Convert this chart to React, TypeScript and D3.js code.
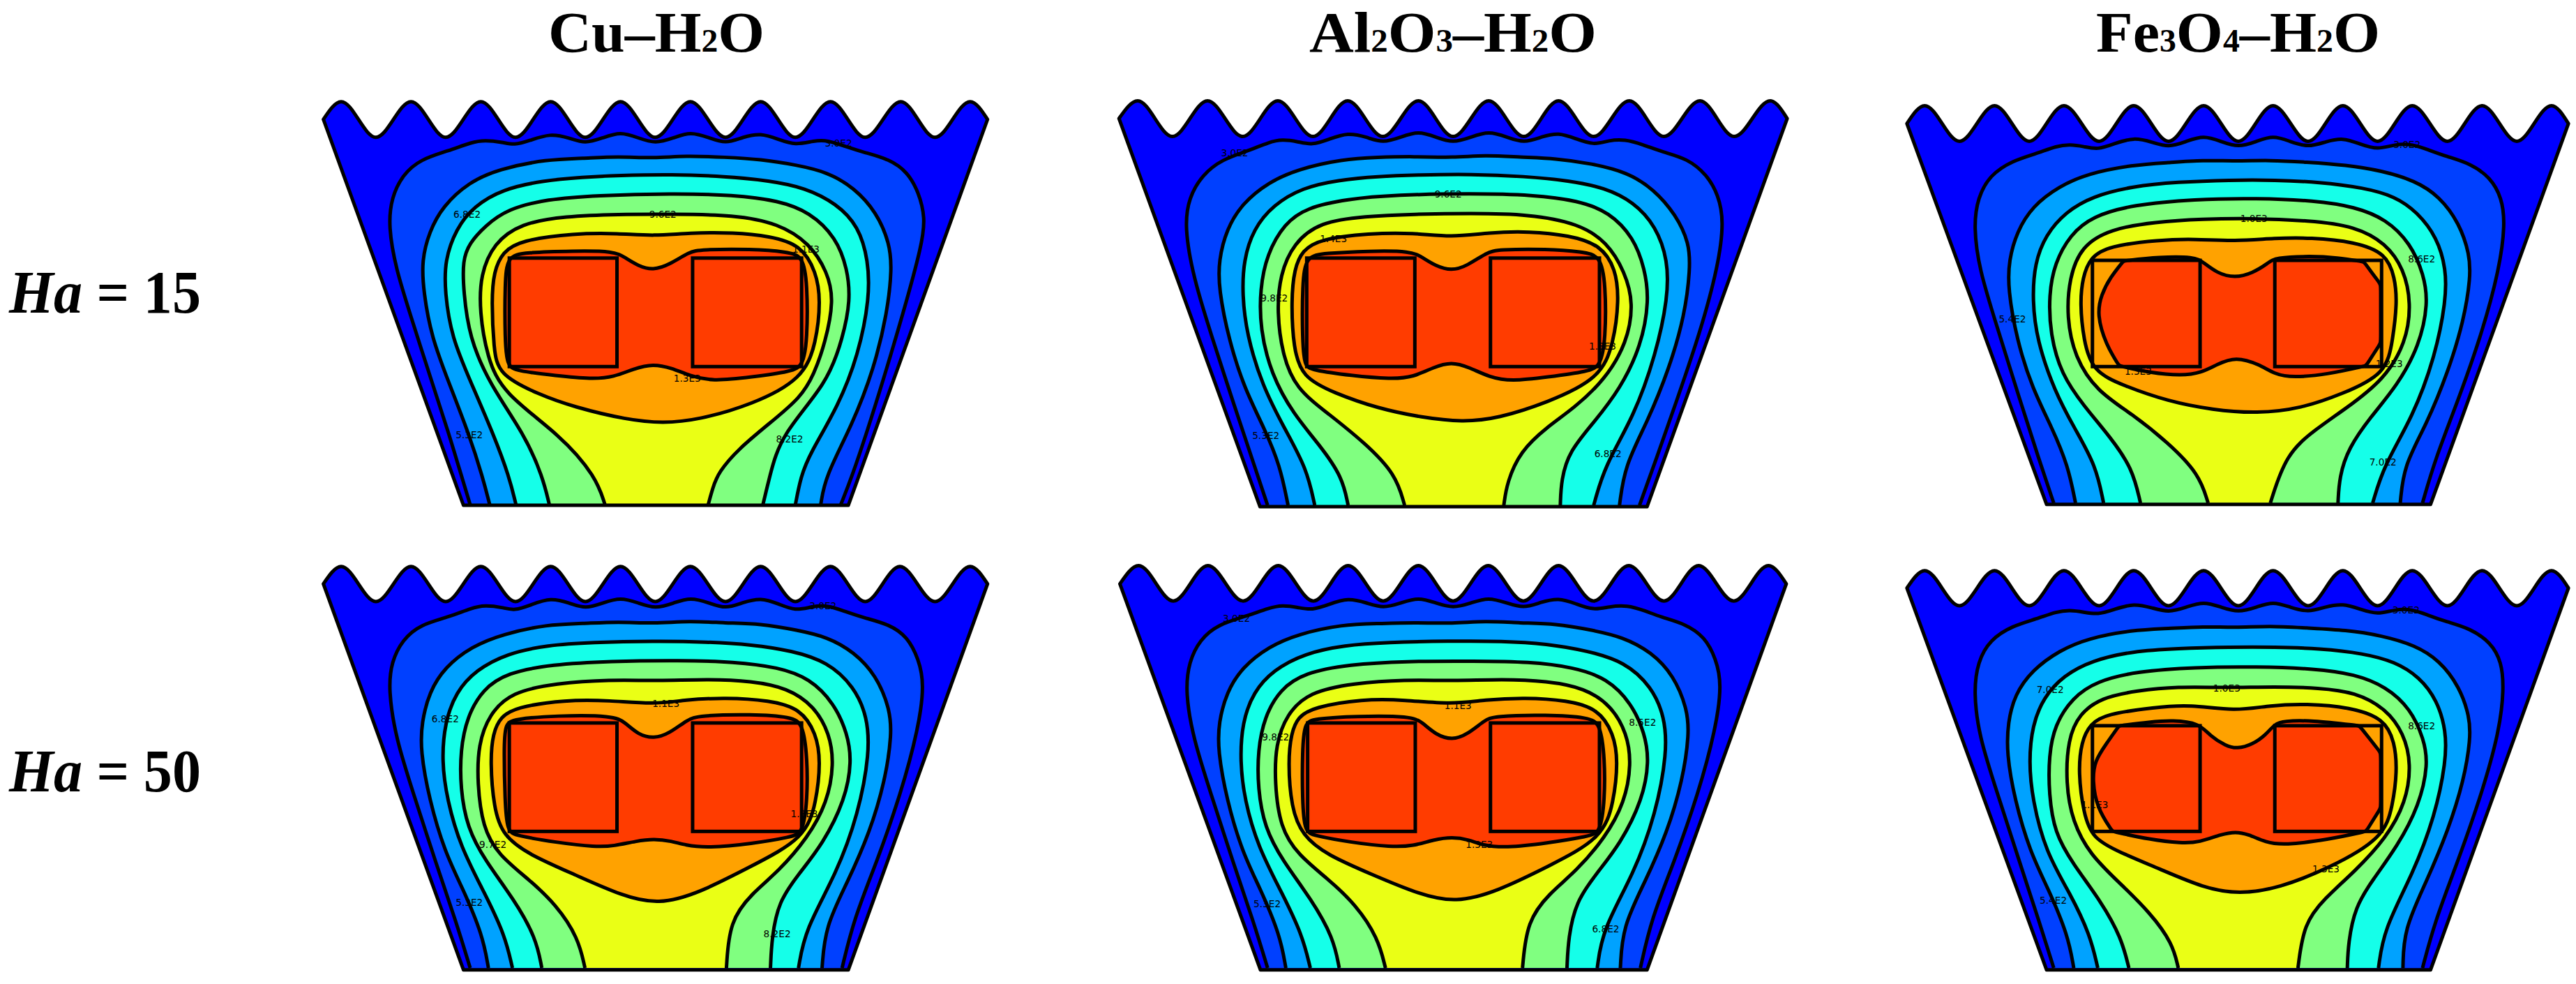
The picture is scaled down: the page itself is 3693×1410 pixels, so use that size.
import React from "react";
import * as d3 from "d3";

type P = [number, number];
type Lab = [string, number, number];

const bandColors = ["#0000ff", "#0040ff", "#00a2ff", "#15ffe9", "#80ff80", "#eaff15", "#ffa200", "#ff3c00"];

// Each panel: contours read in a 1568-unit reading frame over its crop window
const cu15Origin = [440, 120, 640];
const cu15Hull: P[] = [[37, 125], [1530, 125], [352, 1480], [1217, 1480]];
const cu15Peaks = [77, 234, 391, 548, 705, 862, 1020, 1177, 1335, 1491];
const cu15Valleys = [155, 312, 469, 626, 783, 941, 1098, 1255, 1412];
const cu15Crest = [63, 188];
const cu15Blocks = [455, 697, 867, 1112, 612, 993];
const cu15Lines: P[][] = [
  [[367,1478],[348,1380],[317,1217],[282,1053],[232,808],[200,650],[183,500],[190,400],[215,320],[255,265],[320,235],[370,205],[400,198],[440,205],[466,216],[500,200],[547,174],[590,190],[625,211],[665,190],[705,168],[745,190],[783,211],[825,190],[862,168],[905,190],[941,211],[980,187],[1020,173],[1060,195],[1098,216],[1140,200],[1170,198],[1210,220],[1250,240],[1310,265],[1350,310],[1375,380],[1390,470],[1383,563],[1340,808],[1293,1053],[1260,1217],[1225,1380],[1200,1478]],
  [[411,1478],[395,1380],[365,1233],[320,1053],[280,890],[262,730],[258,620],[275,520],[305,430],[365,345],[430,300],[540,265],[620,262],[700,255],[780,262],[850,252],[940,258],[1020,265],[1100,285],[1170,310],[1230,365],[1280,450],[1310,560],[1315,650],[1305,800],[1275,1000],[1225,1200],[1165,1380],[1155,1478]],
  [[470,1478],[455,1380],[420,1233],[370,1053],[325,890],[310,730],[310,620],[335,510],[375,430],[440,370],[530,340],[620,328],[700,322],[820,318],[940,325],[1040,340],[1120,365],[1190,420],[1240,500],[1262,620],[1265,750],[1240,950],[1195,1130],[1130,1300],[1110,1380],[1098,1478]],
  [[545,1478],[530,1380],[490,1233],[410,1053],[365,890],[352,730],[350,620],[365,560],[400,500],[450,440],[540,405],[650,392],[820,385],[960,390],[1060,410],[1130,450],[1190,540],[1215,650],[1222,760],[1205,890],[1170,1053],[1065,1233],[1040,1380],[1025,1478]],
  [[670,1478],[650,1380],[570,1233],[440,1086],[405,960],[388,800],[390,670],[420,560],[480,490],[580,465],[700,458],[820,458],[960,460],[1060,490],[1130,560],[1170,660],[1185,760],[1165,910],[1140,1020],[1110,1102],[1040,1192],[970,1282],[925,1364],[912,1420],[902,1478]],
];
const cu15Orange: P[] = [[440,590],[480,550],[600,525],[700,525],[780,535],[860,523],[960,522],[1040,535],[1110,565],[1145,660],[1155,760],[1145,910],[1115,1037],[1000,1127],[880,1180],[800,1192],[720,1180],[600,1135],[520,1090],[430,1021],[420,930],[415,760],[420,660]];
const cu15Red: P[] = [[450,605],[490,592],[600,587],[690,587],[715,610],[745,640],[778,655],[815,635],[860,590],[885,582],[1000,580],[1080,590],[1115,605],[1125,700],[1125,900],[1115,990],[1090,1010],[1000,1030],[910,1045],[860,1025],[820,998],[778,983],[735,1000],[690,1030],[640,1037],[560,1025],[470,1008],[450,990],[445,900],[445,700]];
const cu15Labels: Lab[] = [["3.0E2",1195,207],["6.8E2",360,458],["9.6E2",800,458],["1.1E3",1122,580],["1.3E3",855,1033],["5.3E2",365,1233],["8.2E2",1085,1247]];

const al15Origin = [1580, 120, 640];
const al15Hull: P[] = [[38, 122], [1540, 122], [355, 1485], [1225, 1485]];
const al15Peaks = [80, 237, 395, 552, 711, 869, 1026, 1185, 1344, 1502];
const al15Valleys = [158, 316, 474, 631, 789, 948, 1105, 1263, 1421];
const al15Crest = [60, 185];
const al15Blocks = [460, 703, 873, 1118, 612, 993];
const al15Lines: P[][] = [
  [[372,1480],[340,1330],[295,1120],[245,880],[205,680],[185,500],[195,400],[225,320],[270,265],[330,235],[375,205],[405,195],[440,203],[472,216],[510,195],[552,171],[595,187],[631,209],[672,187],[711,166],[750,187],[789,209],[830,187],[869,166],[910,187],[948,209],[990,185],[1026,171],[1065,193],[1105,216],[1140,198],[1175,195],[1215,213],[1260,240],[1315,262],[1360,320],[1385,390],[1398,480],[1385,640],[1345,870],[1290,1120],[1245,1320],[1208,1480]],
  [[418,1480],[400,1340],[365,1210],[320,1070],[285,900],[262,720],[262,620],[280,510],[315,420],[375,345],[440,300],[540,265],[620,258],[700,255],[790,260],[860,250],[940,258],[1020,262],[1100,280],[1180,310],[1240,370],[1290,460],[1320,560],[1322,650],[1310,810],[1275,1000],[1225,1190],[1175,1340],[1163,1480]],
  [[478,1480],[460,1350],[410,1210],[360,1060],[325,880],[315,740],[318,620],[340,510],[385,425],[450,365],[530,338],[620,325],[710,320],[830,317],[950,325],[1050,340],[1130,365],[1195,415],[1245,500],[1272,620],[1272,750],[1245,950],[1195,1170],[1130,1340],[1105,1480]],
  [[553,1480],[540,1380],[490,1270],[430,1160],[380,1020],[355,860],[355,720],[370,600],[410,490],[460,435],[550,405],[660,390],[830,385],[970,390],[1070,410],[1140,450],[1195,540],[1220,650],[1230,760],[1212,920],[1165,1070],[1105,1190],[1050,1290],[1032,1390],[1030,1480]],
  [[680,1480],[660,1370],[590,1260],[510,1160],[435,1070],[405,950],[393,800],[400,670],[430,560],[490,485],[590,465],[700,458],[830,455],[960,458],[1070,490],[1135,555],[1175,660],[1195,770],[1180,910],[1130,1040],[1060,1140],[1000,1205],[940,1290],[910,1400],[903,1480]],
];
const al15Orange: P[] = [[450,585],[490,545],[600,525],[700,523],[785,540],[870,522],[960,518],[1050,532],[1120,565],[1155,650],[1162,760],[1150,910],[1120,1035],[1000,1120],[890,1175],[810,1188],[720,1172],[620,1140],[520,1085],[450,1030],[430,930],[425,760],[432,650]];
const al15Red: P[] = [[458,605],[500,595],[600,587],[695,587],[720,610],[750,640],[785,657],[820,640],[865,592],[890,582],[1000,580],[1080,590],[1120,603],[1132,700],[1132,900],[1120,990],[1095,1010],[1000,1030],[920,1045],[870,1030],[825,995],[785,976],[745,995],[700,1030],[650,1037],[560,1025],[470,1005],[455,990],[450,900],[450,700]];
const al15Labels: Lab[] = [["3.0E2",298,243],["9.6E2",778,387],["1.4E3",520,543],["9.8E2",387,752],["1.3E3",1125,920],["5.3E2",368,1235],["6.8E2",1137,1298]];

const fe15Origin = [2700, 120, 640];
const fe15Hull: P[] = [[53, 140], [1540, 140], [367, 1477], [1230, 1477]];
const fe15Peaks = [93, 250, 406, 563, 720, 876, 1033, 1189, 1346, 1502];
const fe15Valleys = [171, 328, 485, 641, 798, 955, 1111, 1268, 1424];
const fe15Crest = [77, 202];
const fe15Blocks = [470, 712, 880, 1120, 620, 993];
const fe15Lines: P[][] = [
  [[383,1472],[350,1320],[305,1100],[255,850],[215,650],[203,500],[212,400],[240,320],[290,270],[345,245],[390,218],[420,213],[450,220],[482,232],[520,210],[563,188],[605,205],[641,224],[680,203],[720,181],[760,203],[798,224],[838,203],[876,181],[915,203],[955,224],[995,203],[1033,189],[1072,212],[1111,232],[1150,212],[1190,212],[1225,232],[1265,255],[1320,280],[1365,330],[1390,400],[1398,490],[1385,650],[1345,880],[1290,1120],[1240,1320],[1212,1472]],
  [[432,1472],[415,1340],[380,1210],[335,1070],[300,900],[280,720],[282,620],[300,520],[335,430],[395,360],[460,315],[560,285],[640,277],[720,268],[790,272],[870,268],[950,275],[1040,285],[1120,305],[1195,340],[1250,395],[1295,490],[1318,600],[1320,680],[1305,830],[1270,1010],[1220,1200],[1170,1340],[1162,1472]],
  [[495,1472],[478,1340],[430,1210],[385,1080],[345,900],[335,760],[340,630],[365,530],[410,450],[470,395],[560,360],[660,345],[780,338],[880,338],[980,345],[1080,365],[1150,395],[1200,450],[1245,540],[1265,650],[1265,760],[1240,960],[1190,1170],[1125,1340],[1100,1472]],
  [[578,1472],[560,1350],[510,1240],[450,1130],[400,1020],[375,880],[372,740],[385,630],[420,530],[470,465],[560,425],[700,405],[840,402],[970,410],[1060,432],[1130,475],[1185,560],[1215,670],[1225,770],[1205,920],[1155,1060],[1095,1170],[1045,1280],[1025,1380],[1022,1472]],
  [[730,1472],[710,1370],[640,1260],[560,1160],[480,1080],[430,960],[412,820],[418,680],[445,570],[510,510],[610,485],[720,475],[820,472],[960,480],[1060,500],[1130,560],[1170,650],[1187,770],[1175,910],[1125,1040],[1040,1140],[970,1215],[905,1300],[870,1472]],
];
const fe15Orange: P[] = [[465,610],[505,570],[620,548],[700,545],[790,553],[880,542],[960,540],[1060,555],[1130,595],[1150,680],[1155,770],[1145,900],[1130,1020],[1030,1090],[940,1140],[840,1158],[740,1145],[640,1115],[540,1060],[470,1010],[450,900],[442,770],[448,680]];
const fe15Red: P[] = [[540,622],[540,622],[620,608],[700,608],[718,625],[750,665],[790,682],[830,665],[865,630],[880,610],[960,605],[1020,610],[1080,625],[1080,625],[1118,705],[1118,705],[1118,910],[1118,910],[1085,990],[1085,990],[1000,1020],[920,1032],[880,1020],[845,985],[792,958],[750,985],[715,1015],[670,1025],[600,1015],[530,990],[530,990],[500,915],[480,810],[490,740],[510,680]];
const fe15Labels: Lab[] = [["3.0E2",1177,213],["1.0E3",833,473],["8.6E2",1210,615],["5.4E2",290,825],["1.2E3",1137,982],["1.3E3",573,1010],["7.0E2",1123,1328]];

const cu50Origin = [440, 790, 620];
const cu50Hull: P[] = [[37, 118], [1530, 118], [352, 1517], [1217, 1517]];
const cu50Peaks = [77, 234, 391, 548, 705, 862, 1020, 1177, 1333, 1491];
const cu50Valleys = [155, 312, 469, 626, 783, 941, 1098, 1255, 1412];
const cu50Crest = [55, 182];
const cu50Blocks = [455, 697, 867, 1112, 622, 1015];
const cu50Lines: P[][] = [
  [[367,1510],[335,1340],[290,1130],[240,880],[200,680],[183,500],[190,400],[215,320],[255,265],[320,238],[370,205],[400,195],[440,203],[466,216],[505,193],[548,168],[590,187],[626,209],[665,187],[705,166],[745,187],[783,209],[825,187],[862,166],[905,187],[941,209],[980,185],[1020,168],[1060,190],[1098,216],[1135,200],[1170,195],[1210,218],[1250,240],[1310,265],[1350,310],[1375,390],[1388,480],[1375,640],[1335,880],[1280,1130],[1230,1330],[1203,1510]],
  [[408,1510],[395,1390],[350,1220],[310,1090],[275,900],[255,720],[258,620],[275,510],[310,420],[370,345],[440,300],[540,265],[620,262],[700,255],[780,262],[860,252],[940,260],[1020,262],[1100,285],[1170,310],[1230,365],[1280,450],[1310,570],[1315,660],[1300,830],[1265,1020],[1215,1200],[1165,1360],[1158,1510]],
  [[462,1510],[445,1390],[400,1240],[345,1070],[315,900],[303,760],[310,620],[335,510],[380,430],[450,370],[540,340],[640,330],[780,325],[900,328],[1000,338],[1090,360],[1170,400],[1230,490],[1260,600],[1265,730],[1240,950],[1190,1170],[1120,1370],[1105,1510]],
  [[528,1510],[515,1400],[465,1260],[400,1120],[360,1000],[345,860],[345,720],[360,600],[395,500],[450,440],[550,410],[680,398],[840,395],[960,400],[1060,420],[1130,460],[1185,550],[1215,660],[1225,760],[1210,900],[1160,1060],[1105,1170],[1060,1270],[1045,1400],[1042,1510]],
  [[625,1510],[610,1400],[560,1280],[500,1190],[430,1100],[395,1000],[383,840],[385,700],[410,590],[460,510],[560,478],[680,465],[790,470],[900,463],[1000,470],[1080,495],[1140,560],[1175,660],[1185,770],[1170,910],[1125,1040],[1060,1160],[1000,1240],[950,1340],[943,1510]],
];
const cu50Orange: P[] = [[435,600],[470,565],[580,538],[680,540],[780,555],[850,538],[940,530],[1040,540],[1110,570],[1145,660],[1155,760],[1145,910],[1120,1040],[1000,1140],[880,1240],[790,1280],[710,1250],[600,1170],[500,1100],[440,1030],[420,930],[412,760],[418,660]];
const cu50Red: P[] = [[445,625],[465,608],[560,595],[690,595],[715,620],[745,665],[780,679],[815,660],[855,610],[880,595],[1000,590],[1090,600],[1115,625],[1125,750],[1125,900],[1115,1020],[1090,1035],[1000,1060],[900,1075],[850,1065],[820,1050],[780,1042],[740,1050],[690,1068],[650,1072],[560,1055],[470,1030],[450,1015],[445,900],[443,720]];
const cu50Labels: Lab[] = [["3.0E2",1160,197],["1.1E3",807,552],["6.8E2",311,608],["1.3E3",1118,950],["9.7E2",418,1062],["5.3E2",365,1273],["8.2E2",1057,1387]];

const al50Origin = [1580, 790, 620];
const al50Hull: P[] = [[40, 118], [1538, 118], [356, 1517], [1225, 1517]];
const al50Peaks = [82, 238, 396, 553, 711, 868, 1026, 1184, 1341, 1498];
const al50Valleys = [160, 317, 475, 632, 789, 947, 1105, 1263, 1420];
const al50Crest = [52, 180];
const al50Blocks = [462, 704, 873, 1118, 622, 1015];
const al50Lines: P[][] = [
  [[372,1510],[340,1340],[295,1130],[245,880],[205,680],[187,510],[195,400],[220,320],[260,265],[325,235],[375,205],[405,195],[440,203],[472,214],[510,192],[553,168],[595,187],[632,207],[672,187],[711,166],[750,187],[789,207],[830,187],[868,166],[910,187],[947,207],[985,185],[1026,168],[1065,190],[1105,214],[1140,200],[1180,195],[1220,215],[1255,238],[1310,262],[1355,310],[1380,390],[1393,480],[1380,640],[1340,880],[1285,1130],[1235,1330],[1210,1510]],
  [[413,1510],[400,1390],[355,1220],[315,1090],[280,900],[260,720],[262,620],[280,510],[315,420],[375,345],[440,300],[540,265],[620,262],[700,258],[790,262],[860,252],[940,260],[1020,262],[1100,285],[1170,310],[1235,365],[1285,450],[1315,570],[1320,660],[1305,830],[1270,1020],[1220,1200],[1170,1360],[1165,1510]],
  [[468,1510],[450,1390],[405,1240],[350,1070],[320,900],[310,760],[315,620],[340,510],[385,430],[455,370],[545,340],[640,330],[780,325],[900,325],[1000,335],[1090,360],[1175,400],[1235,490],[1265,600],[1270,730],[1245,950],[1195,1170],[1125,1370],[1113,1510]],
  [[533,1510],[520,1400],[470,1260],[405,1120],[365,1000],[350,860],[350,720],[365,600],[400,500],[455,440],[555,410],[680,398],[840,398],[960,400],[1060,420],[1135,460],[1190,550],[1220,660],[1230,760],[1215,900],[1165,1060],[1110,1170],[1065,1270],[1048,1400],[1045,1510]],
  [[637,1510],[620,1400],[570,1280],[510,1190],[440,1100],[400,1000],[388,840],[390,700],[415,590],[465,510],[565,478],[680,465],[790,470],[900,463],[1000,470],[1085,495],[1145,560],[1180,660],[1190,770],[1175,910],[1130,1040],[1065,1160],[1005,1240],[955,1340],[945,1510]],
];
const al50Orange: P[] = [[440,600],[475,565],[585,535],[680,538],[785,555],[860,538],[950,530],[1045,540],[1115,570],[1150,660],[1160,760],[1150,910],[1125,1040],[1005,1140],[885,1235],[795,1273],[715,1245],[605,1170],[505,1100],[450,1030],[425,930],[418,760],[425,660]];
const al50Red: P[] = [[455,622],[475,607],[570,597],[695,597],[720,620],[750,665],[787,684],[820,665],[860,612],[880,597],[1000,592],[1095,602],[1120,625],[1130,750],[1130,900],[1120,1020],[1095,1032],[1000,1058],[905,1075],[855,1065],[825,1045],[787,1035],[745,1045],[700,1068],[650,1072],[560,1055],[475,1030],[455,1015],[450,900],[450,720]];
const al50Labels: Lab[] = [["3.0E2",302,243],["1.1E3",800,558],["9.8E2",390,673],["8.5E2",1215,620],["1.3E3",848,1063],["5.3E2",371,1278],["6.8E2",1132,1367]];

const fe50Origin = [2700, 790, 620];
const fe50Hull: P[] = [[53, 133], [1540, 133], [367, 1517], [1230, 1517]];
const fe50Peaks = [93, 250, 406, 563, 720, 876, 1033, 1189, 1346, 1502];
const fe50Valleys = [171, 328, 485, 641, 798, 955, 1111, 1268, 1424];
const fe50Crest = [70, 197];
const fe50Blocks = [470, 712, 880, 1120, 632, 1015];
const fe50Lines: P[][] = [
  [[383,1510],[350,1340],[305,1120],[255,870],[215,670],[203,510],[212,400],[240,320],[290,270],[345,245],[390,218],[420,213],[450,220],[482,230],[520,210],[563,188],[605,205],[641,222],[680,203],[720,181],[760,203],[798,222],[838,203],[876,181],[915,203],[955,222],[995,200],[1033,189],[1072,210],[1111,230],[1150,210],[1190,210],[1225,232],[1265,255],[1320,280],[1365,330],[1390,400],[1395,500],[1385,650],[1345,880],[1290,1130],[1240,1340],[1212,1510]],
  [[428,1510],[415,1390],[370,1220],[330,1090],[295,900],[277,730],[280,620],[295,520],[335,430],[395,360],[460,315],[560,285],[640,280],[720,272],[790,277],[870,270],[950,278],[1040,285],[1120,305],[1195,340],[1250,395],[1295,490],[1318,600],[1320,680],[1305,830],[1270,1010],[1220,1200],[1170,1370],[1168,1510]],
  [[482,1510],[465,1390],[420,1240],[365,1090],[335,900],[327,760],[335,630],[360,530],[405,450],[470,395],[560,362],[660,352],[780,347],[880,347],[980,352],[1080,370],[1150,400],[1205,455],[1245,540],[1265,650],[1265,760],[1240,960],[1190,1170],[1125,1370],[1113,1510]],
  [[552,1510],[535,1400],[490,1270],[425,1130],[385,1020],[372,880],[372,740],[385,630],[425,530],[480,470],[570,435],[700,420],[840,418],[970,425],[1060,445],[1130,490],[1185,570],[1215,680],[1225,770],[1205,920],[1155,1070],[1100,1190],[1060,1290],[1045,1420],[1043,1510]],
  [[663,1510],[650,1420],[600,1310],[530,1200],[465,1100],[425,980],[410,840],[415,680],[440,590],[490,530],[570,505],[660,490],[770,495],[880,490],[980,495],[1060,510],[1130,570],[1170,660],[1187,770],[1175,910],[1130,1040],[1060,1160],[990,1260],[945,1350],[932,1510]],
];
const fe50Orange: P[] = [[465,625],[500,590],[610,565],[690,555],[790,580],[870,558],[950,552],[1050,565],[1125,605],[1150,690],[1155,800],[1145,920],[1125,1040],[1000,1150],[890,1220],[800,1243],[720,1220],[620,1150],[530,1090],[470,1040],[450,950],[438,800],[445,690]];
const fe50Red: P[] = [[530,632],[530,632],[600,618],[650,612],[710,622],[735,670],[770,705],[795,716],[830,700],[860,665],[880,625],[900,615],[960,612],[1070,632],[1070,632],[1118,730],[1118,730],[1118,930],[1118,930],[1085,1015],[1085,1015],[1000,1045],[900,1065],[860,1055],[820,1025],[792,1016],[760,1025],[710,1055],[670,1058],[600,1045],[515,1015],[515,1015],[480,930],[470,830],[475,760],[500,700]];
const fe50Labels: Lab[] = [["3.0E2",1175,213],["7.0E2",375,500],["1.0E3",772,495],["8.6E2",1210,632],["1.1E3",475,918],["1.3E3",995,1150],["5.4E2",382,1265]];

const panels = [
  [cu15Origin, cu15Hull, cu15Peaks, cu15Valleys, cu15Crest, cu15Blocks, cu15Lines, cu15Orange, cu15Red, cu15Labels],
  [al15Origin, al15Hull, al15Peaks, al15Valleys, al15Crest, al15Blocks, al15Lines, al15Orange, al15Red, al15Labels],
  [fe15Origin, fe15Hull, fe15Peaks, fe15Valleys, fe15Crest, fe15Blocks, fe15Lines, fe15Orange, fe15Red, fe15Labels],
  [cu50Origin, cu50Hull, cu50Peaks, cu50Valleys, cu50Crest, cu50Blocks, cu50Lines, cu50Orange, cu50Red, cu50Labels],
  [al50Origin, al50Hull, al50Peaks, al50Valleys, al50Crest, al50Blocks, al50Lines, al50Orange, al50Red, al50Labels],
  [fe50Origin, fe50Hull, fe50Peaks, fe50Valleys, fe50Crest, fe50Blocks, fe50Lines, fe50Orange, fe50Red, fe50Labels],
] as any[][];

const titleParts: [string, boolean][][] = [
  [["Cu–H", false], ["2", true], ["O", false]],
  [["Al", false], ["2", true], ["O", false], ["3", true], ["–H", false], ["2", true], ["O", false]],
  [["Fe", false], ["3", true], ["O", false], ["4", true], ["–H", false], ["2", true], ["O", false]],
];
const titleStart = [786, 1877, 3005];
const titleWidth = [310, 412, 407];
const rowNames = ["15", "50"];
const rowBaseline = [448, 1134];

const FONT = "'Liberation Serif', serif";
const LINE = 5;

function Panel({ spec }: { spec: any[] }) {
  const [org, hull, peaks, valleys, crest, blocks, lines, orange, red, labels] = spec;
  const sx = d3.scaleLinear().domain([0, 1568]).range([org[0], org[0] + 1000]);
  const sy = d3.scaleLinear().domain([0, 1568]).range([org[1], org[1] + org[2]]);
  const open = d3.line<P>().x((d) => sx(d[0])).y((d) => sy(d[1])).curve(d3.curveBasis);
  const closed = d3.line<P>().x((d) => sx(d[0])).y((d) => sy(d[1])).curve(d3.curveBasisClosed);
  const wave = d3.line<P>().x((d) => sx(d[0])).y((d) => sy(d[1])).curve(d3.curveMonotoneX);

  const topEdge: P[] = [hull[0]];
  peaks.forEach((p: number, i: number) => {
    topEdge.push([p, crest[0]]);
    if (i < valleys.length) topEdge.push([valleys[i], crest[1]]);
  });
  topEdge.push(hull[1]);
  const outline = `${wave(topEdge)}L${sx(hull[3][0])},${sy(hull[3][1])}L${sx(hull[2][0])},${sy(hull[2][1])}Z`;
  const rects = [
    [blocks[0], blocks[1]],
    [blocks[2], blocks[3]],
  ];
  return (
    <g>
      <path d={outline} fill={bandColors[0]} />
      {lines.map((c: P[], i: number) => (
        <path key={i} d={`${open(c)}Z`} fill={bandColors[i + 1]} />
      ))}
      {lines.map((c: P[], i: number) => (
        <path key={i} d={open(c)!} fill="none" stroke="#000" strokeWidth={LINE} strokeLinejoin="round" />
      ))}
      <path d={closed(orange)!} fill={bandColors[6]} stroke="#000" strokeWidth={LINE} />
      <path d={closed(red)!} fill={bandColors[7]} stroke="#000" strokeWidth={LINE} strokeLinejoin="round" />
      {rects.map((r, i) => (
        <rect
          key={i}
          x={sx(r[0])}
          y={sy(blocks[4])}
          width={sx(r[1]) - sx(r[0])}
          height={sy(blocks[5]) - sy(blocks[4])}
          fill="none"
          stroke="#000"
          strokeWidth={LINE}
        />
      ))}
      <path d={outline} fill="none" stroke="#000" strokeWidth={LINE} strokeLinejoin="round" />
      {labels.map((l: Lab, i: number) => (
        <text
          key={i}
          x={sx(l[1])}
          y={sy(l[2])}
          dy="0.36em"
          textAnchor="middle"
          fontFamily="'DejaVu Sans', sans-serif"
          fontSize={14}
          textLength={39}
          lengthAdjust="spacingAndGlyphs"
          fill="#000"
        >
          {l[0]}
        </text>
      ))}
    </g>
  );
}

export default function App() {
  return (
    <svg
      width={3693}
      height={1410}
      viewBox="0 0 3693 1410"
      style={{ position: "absolute", left: 0, top: 0, display: "block", background: "#fff" }}
    >
      {panels.map((p, i) => (
        <Panel key={i} spec={p} />
      ))}
      {titleParts.map((parts, i) => (
        <text
          key={i}
          x={titleStart[i]}
          y={74}
          fontFamily={FONT}
          fontWeight="bold"
          fontSize={83}
          textLength={titleWidth[i]}
          lengthAdjust="spacingAndGlyphs"
        >
          {parts.map((p, j) => (
            <tspan key={j} fontSize={p[1] ? 46 : 83}>
              {p[0]}
            </tspan>
          ))}
        </text>
      ))}
      {rowNames.map((n, i) => (
        <text
          key={i}
          x={13}
          y={rowBaseline[i]}
          fontFamily={FONT}
          fontWeight="bold"
          fontSize={86}
          textLength={275}
          lengthAdjust="spacingAndGlyphs"
        >
          <tspan fontStyle="italic">Ha</tspan>
          <tspan> = {n}</tspan>
        </text>
      ))}
    </svg>
  );
}
